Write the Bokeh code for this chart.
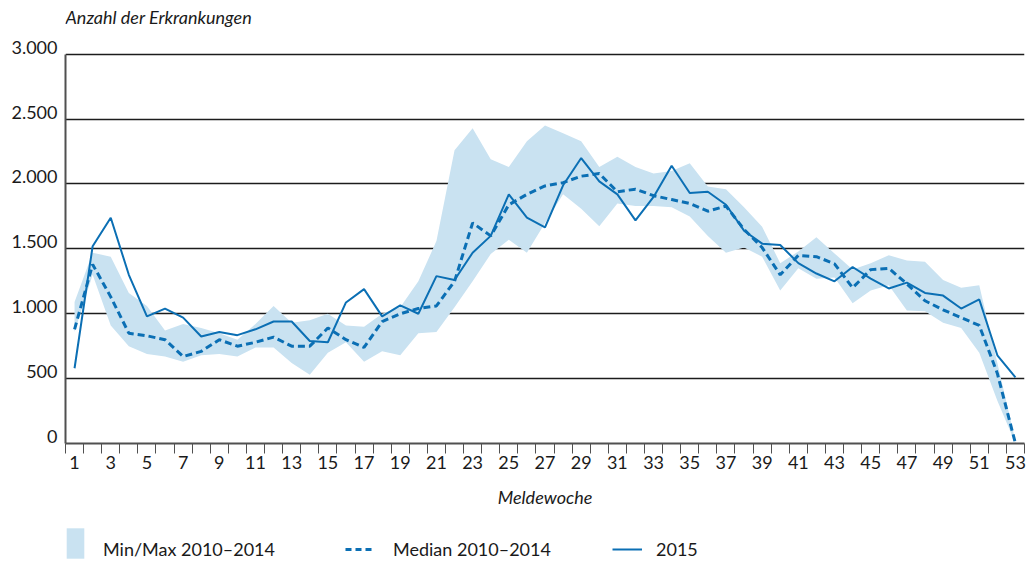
from bokeh.plotting import figure
from bokeh.models import FixedTicker, LinearAxis, Legend, LegendItem, Range1d, Label
from bokeh.layouts import column
from bokeh.embed import file_html
from bokeh.resources import INLINE

# ---------------- data ----------------
weeks = list(range(1, 54))

cases_2015 = [580, 1520, 1740, 1300, 980, 1040, 970, 825, 860, 835,
              880, 940, 940, 790, 780, 1087, 1190, 980, 1065, 1000,
              1290, 1260, 1470, 1600, 1920, 1740, 1665, 1990, 2200, 2020,
              1920, 1720, 1900, 2140, 1930, 1940, 1840, 1640, 1540, 1530,
              1390, 1310, 1250, 1360, 1270, 1195, 1240, 1160, 1140, 1040,
              1110, 680, 510]

median_2010_2014 = [880, 1380, 1130, 850, 830, 800, 670, 710, 800, 750,
                    780, 820, 750, 750, 890, 800, 740, 940, 1000, 1040,
                    1060, 1250, 1700, 1600, 1840, 1920, 1985, 2010, 2060, 2080,
                    1940, 1960, 1910, 1880, 1850, 1790, 1830, 1650, 1510, 1300,
                    1450, 1440, 1385, 1200, 1340, 1350, 1230, 1100, 1030, 970,
                    910, 540, 0]

max_2010_2014 = [1090, 1470, 1440, 1160, 1060, 870, 920, 890, 850, 800,
                 920, 1060, 930, 950, 1000, 910, 900, 1000, 1050, 1250,
                 1560, 2260, 2430, 2190, 2130, 2330, 2450, 2390, 2330, 2130,
                 2210, 2130, 2080, 2100, 2160, 1980, 1960, 1820, 1670, 1390,
                 1480, 1590, 1465, 1340, 1390, 1450, 1410, 1400, 1260, 1200,
                 1220, 620, 20]

min_2010_2014 = [860, 1300, 910, 750, 690, 670, 630, 680, 690, 670,
                 740, 740, 620, 530, 700, 780, 630, 710, 680, 850,
                 860, 1050, 1250, 1460, 1570, 1470, 1700, 1920, 1810, 1675,
                 1850, 1830, 1830, 1820, 1750, 1600, 1470, 1510, 1440, 1180,
                 1350, 1270, 1280, 1080, 1180, 1220, 1025, 1020, 930, 890,
                 700, 330, 0]

x_tick_weeks = list(range(1, 54, 2))
y_tick_values = [0, 500, 1000, 1500, 2000, 2500, 3000]
y_tick_labels = ["0", "500", "1.000", "1.500", "2.000", "2.500", "3.000"]

title_text = "Anzahl der Erkrankungen"
x_title = "Meldewoche"
legend_band = "Min/Max 2010\u20132014"
legend_median = "Median 2010\u20132014"
legend_2015 = "2015"

# ---------------- style ----------------
FONT = "Lato"
FS = "18px"
TXT = "#1a1a1a"
BLUE = "#0b6fb4"
BAND = "#c9e2f1"
AXIS = "#505050"
W = 1028

# frame runs from the top of the canvas; the headroom above 3000 holds the caption
p = figure(width=W, height=515,
           x_range=Range1d(0.5, 53.5), y_range=Range1d(0, 3414),
           y_axis_location=None,
           output_backend="svg", toolbar_location=None,
           min_border_left=65, min_border_right=4,
           min_border_top=0, min_border_bottom=72)
p.outline_line_color = None

# caption of the y axis
p.add_layout(Label(x=0.5, y=3000, y_offset=37, text=title_text,
                   text_font=FONT, text_font_style="italic",
                   text_font_size=FS, text_color=TXT,
                   text_baseline="alphabetic", text_align="left"))

# grids
p.xgrid.visible = False
for g in p.ygrid:
    g.ticker = FixedTicker(ticks=y_tick_values[1:])
    g.grid_line_color = "#1c1c1c"
    g.grid_line_width = 1.3

# data glyphs
band = p.varea(x=weeks, y1=min_2010_2014, y2=max_2010_2014,
               fill_color=BAND, fill_alpha=1.0)
med = p.line(weeks, median_2010_2014, line_color=BLUE, line_width=3,
             line_dash="7 4")
cur = p.line(weeks, cases_2015, line_color=BLUE, line_width=2)

# x axis
xa = p.xaxis[0]
xa.ticker = FixedTicker(ticks=x_tick_weeks,
                        minor_ticks=[w - 0.5 for w in weeks] + [53.5])
xa.major_tick_in = 0
xa.major_tick_out = 0
xa.minor_tick_in = 0
xa.minor_tick_out = 10
xa.minor_tick_line_color = AXIS
xa.minor_tick_line_width = 1
xa.axis_line_color = AXIS
xa.axis_line_width = 2
xa.major_label_standoff = 2
xa.major_label_text_font = FONT
xa.major_label_text_font_size = FS
xa.major_label_text_color = TXT
xa.axis_label = x_title
xa.axis_label_text_font = FONT
xa.axis_label_text_font_style = "italic"
xa.axis_label_text_font_size = FS
xa.axis_label_text_color = TXT
xa.axis_label_standoff = 14

# y axis line (0 .. 3000 only)
yline = LinearAxis(ticker=FixedTicker(ticks=[]), bounds=(0, 3000))
yline.axis_line_color = AXIS
yline.axis_line_width = 2
yline.major_tick_out = 0
yline.major_tick_in = 0
yline.minor_tick_out = 0
yline.minor_tick_in = 0
yline.major_label_standoff = 0
p.add_layout(yline, "left")

# y labels: sit just above their grid lines
off = 54
ya = LinearAxis(ticker=FixedTicker(ticks=[v + off for v in y_tick_values]))
ya.major_label_overrides = {v + off: lab for v, lab in zip(y_tick_values, y_tick_labels)}
ya.axis_line_color = None
ya.major_tick_in = 0
ya.major_tick_out = 0
ya.minor_tick_in = 0
ya.minor_tick_out = 0
ya.major_label_standoff = 8
ya.major_label_text_font = FONT
ya.major_label_text_font_size = FS
ya.major_label_text_color = TXT
p.add_layout(ya, "left")

# ---------------- legend strip ----------------
LH = 45
lf = figure(width=W, height=LH, x_range=Range1d(0, W), y_range=Range1d(0, LH),
            output_backend="svg", toolbar_location=None,
            min_border_left=65, min_border_right=4,
            min_border_top=0, min_border_bottom=0)
lf.axis.visible = False
lf.grid.visible = False
lf.outline_line_color = None
# hidden twins of the chart's renderers, used only for the legend keys
k_band = lf.varea(x=weeks, y1=min_2010_2014, y2=max_2010_2014,
                  fill_color=BAND, fill_alpha=1.0, visible=False)
k_med = lf.line(weeks, median_2010_2014, line_color=BLUE, line_width=3,
                line_dash="6 4", visible=False)
k_cur = lf.line(weeks, cases_2015, line_color=BLUE, line_width=2, visible=False)
k_none = lf.line(weeks, cases_2015, line_alpha=0, visible=False)


def mk_legend(item, loc, gw, gh, standoff):
    return Legend(items=[item], location=loc, orientation="horizontal",
                  glyph_width=gw, glyph_height=gh, label_standoff=standoff,
                  padding=0, margin=0, spacing=0, label_height=gh,
                  border_line_color=None, background_fill_alpha=0,
                  inactive_fill_alpha=0,
                  label_text_font=FONT, label_text_font_size=FS,
                  label_text_color=TXT)


# band key (patch, drawn with a 10% inset) and its text, positioned separately
lf.add_layout(mk_legend(LegendItem(label=" ", renderers=[k_band]),
                        (-1, -2), 22, 38, 0))
lf.add_layout(mk_legend(LegendItem(label=legend_band, renderers=[k_none]),
                        (37, 0), 1, 22, 0))
lf.add_layout(mk_legend(LegendItem(label=legend_median, renderers=[k_med]),
                        (280, 0), 30, 22, 18))
lf.add_layout(mk_legend(LegendItem(label=legend_2015, renderers=[k_cur]),
                        (547, 0), 30, 22, 14))

open("out.html", "w").write(file_html(column(p, lf), INLINE))
